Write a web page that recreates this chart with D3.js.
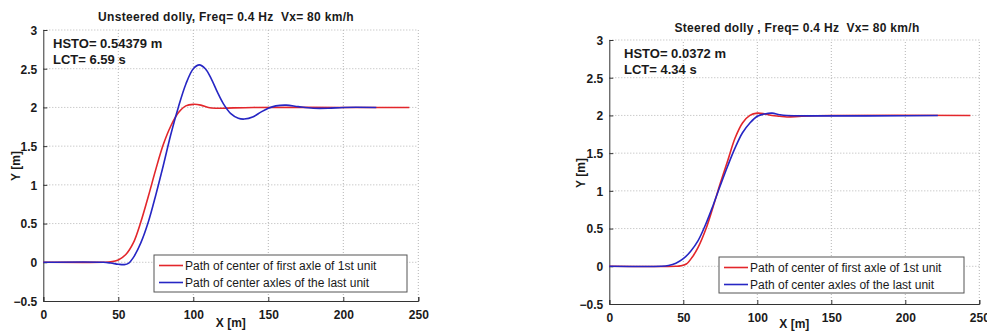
<!DOCTYPE html>
<html>
<head>
<meta charset="utf-8">
<script src="https://cdn.jsdelivr.net/npm/d3@7"></script>
<style>
  html, body { margin: 0; padding: 0; background: #fff; }
  svg { display: block; }
  text { font-family: "Liberation Sans", Arial, sans-serif; fill: #1a1a1a; }
  text.title { white-space: pre; }
</style>
</head>
<body>
<svg id="fig" width="987" height="331"></svg>
<script>
// Lateral path of the first axle of the tractor and of the last unit, single lane change
const xTicks = [0, 50, 100, 150, 200, 250];
const yTicks = [-0.5, 0, 0.5, 1, 1.5, 2, 2.5, 3];
const seriesNames = ["Path of center of first axle of 1st unit", "Path of center axles of the last unit"];

// Unsteered dolly: [X m, Y m]
const unsteeredFirstAxle = [
  [0, 0], [40, 0], [45, 0.005], [50, 0.03], [55, 0.1], [60, 0.25], [65, 0.52], [70, 0.85],
  [75, 1.2], [80, 1.52], [85, 1.76], [90, 1.93], [95, 2.02], [100, 2.04], [105, 2.03],
  [110, 2.0], [115, 1.99], [120, 1.99], [140, 2.0], [200, 2.0], [244, 2.0]
];
const unsteeredLastUnit = [
  [0, 0], [40, 0], [45, -0.01], [50, -0.025], [54, -0.03], [57, -0.01], [60, 0.06], [65, 0.25],
  [70, 0.52], [75, 0.87], [80, 1.25], [85, 1.65], [90, 2.0], [95, 2.3], [100, 2.5], [104, 2.55],
  [108, 2.5], [112, 2.37], [116, 2.2], [120, 2.05], [125, 1.92], [130, 1.86], [134, 1.85],
  [140, 1.88], [145, 1.94], [150, 1.99], [155, 2.02], [162, 2.03], [170, 2.01], [180, 1.99],
  [190, 1.99], [200, 2.0], [222, 2.0]
];

// Steered dolly: [X m, Y m]
const steeredFirstAxle = [
  [0, 0], [45, 0], [48, 0.005], [52, 0.03], [56, 0.12], [60, 0.25], [65, 0.48], [70, 0.78],
  [75, 1.1], [80, 1.4], [85, 1.7], [90, 1.9], [95, 2.0], [100, 2.03], [105, 2.02], [110, 2.0],
  [115, 1.99], [120, 1.98], [130, 1.99], [150, 2.0], [244, 2.0]
];
const steeredLastUnit = [
  [0, 0], [35, 0], [40, 0.01], [45, 0.04], [50, 0.1], [55, 0.2], [60, 0.34], [65, 0.55],
  [70, 0.8], [75, 1.07], [80, 1.33], [85, 1.57], [90, 1.77], [95, 1.9], [100, 1.99],
  [105, 2.02], [110, 2.03], [115, 2.01], [120, 2.0], [222, 2.0]
];

const titles = ["Unsteered dolly, Freq= 0.4 Hz  Vx= 80 km/h", "Steered dolly , Freq= 0.4 Hz  Vx= 80 km/h"];
const hstoLabels = ["HSTO= 0.54379 m", "HSTO= 0.0372 m"];
const lctLabels = ["LCT= 6.59 s", "LCT= 4.34 s"];

const colors = ["#e3262b", "#2626c4"];

const panels = [
  { x0: 43.3, x1: 418.3, yTop: 30, yBot: 301, titleX: 226, titleY: 21,
    ylabX: 16, ylabY: 166, xlabY: 327, infoX: 53, infoY: 48,
    legend: { x: 154, y: 255, w: 253, h: 37 },
    data: [unsteeredFirstAxle, unsteeredLastUnit], idx: 0 },
  { x0: 609.3, x1: 979.3, yTop: 40, yBot: 304, titleX: 797, titleY: 32,
    ylabX: 581, ylabY: 173, xlabY: 328, infoX: 624, infoY: 58,
    legend: { x: 719, y: 257, w: 245, h: 36 },
    data: [steeredFirstAxle, steeredLastUnit], idx: 1 }
];

const svg = d3.select("#fig");

panels.forEach(p => {
  const x = d3.scaleLinear().domain([0, 250]).range([p.x0, p.x1]);
  const y = d3.scaleLinear().domain([-0.5, 3]).range([p.yBot, p.yTop]);
  const g = svg.append("g");

  // dotted grid
  g.append("g").selectAll("line.gx").data(xTicks.slice(1)).join("line")
    .attr("x1", d => x(d)).attr("x2", d => x(d))
    .attr("y1", p.yBot).attr("y2", p.yTop)
    .attr("stroke", "#b5b5b5").attr("stroke-width", 1).attr("stroke-dasharray", "1,2");
  g.append("g").selectAll("line.gy").data(yTicks.slice(1)).join("line")
    .attr("x1", p.x0).attr("x2", p.x1)
    .attr("y1", d => y(d)).attr("y2", d => y(d))
    .attr("stroke", "#b5b5b5").attr("stroke-width", 1).attr("stroke-dasharray", "1,2");

  // axes with inward ticks
  const xAxis = d3.axisBottom(x).tickValues(xTicks).tickSize(-4).tickPadding(9).tickFormat(d3.format("d"));
  const yAxis = d3.axisLeft(y).tickValues(yTicks).tickSize(-4).tickPadding(6).tickFormat(d => d3.format("")(d));
  const gx = g.append("g").attr("transform", `translate(0,${p.yBot})`).call(xAxis);
  const gy = g.append("g").attr("transform", `translate(${p.x0},0)`).call(yAxis);
  [gx, gy].forEach(a => {
    a.select(".domain").attr("stroke", "#333").attr("stroke-width", 1);
    a.selectAll(".tick line").attr("stroke", "#333");
    a.selectAll(".tick text").attr("fill", "#1a1a1a")
      .style("font-family", '"Liberation Sans", Arial, sans-serif')
      .style("font-size", "12px").style("font-weight", "bold");
  });
  gy.selectAll(".tick text").attr("dy", "0.36em");

  // paths
  const line = d3.line().x(d => x(d[0])).y(d => y(d[1])).curve(d3.curveCatmullRom.alpha(0.5));
  p.data.forEach((series, i) => {
    g.append("path").datum(series)
      .attr("d", line).attr("fill", "none")
      .attr("stroke", colors[i]).attr("stroke-width", 1.6)
      .attr("stroke-linejoin", "round");
  });

  // titles and labels
  g.append("text").attr("class", "title").attr("x", p.titleX).attr("y", p.titleY)
    .attr("text-anchor", "middle")
    .style("font-size", "12px").style("font-weight", "bold").style("letter-spacing", "0.3px")
    .text(titles[p.idx]);
  g.append("text").attr("x", (p.x0 + p.x1) / 2).attr("y", p.xlabY).attr("text-anchor", "middle")
    .style("font-size", "12px").style("font-weight", "bold").text("X [m]");
  g.append("text").attr("transform", `translate(${p.ylabX},${p.ylabY}) rotate(-90)`)
    .attr("text-anchor", "middle").attr("dy", "0.35em")
    .style("font-size", "12px").style("font-weight", "bold").text("Y [m]");

  g.append("text").attr("x", p.infoX).attr("y", p.infoY)
    .style("font-size", "13px").style("font-weight", "bold").text(hstoLabels[p.idx]);
  g.append("text").attr("x", p.infoX).attr("y", p.infoY + 16)
    .style("font-size", "13px").style("font-weight", "bold").text(lctLabels[p.idx]);

  // legend
  const L = p.legend;
  const lg = g.append("g");
  lg.append("rect").attr("x", L.x).attr("y", L.y).attr("width", L.w).attr("height", L.h)
    .attr("fill", "#fff").attr("stroke", "#555").attr("stroke-width", 1);
  seriesNames.forEach((name, i) => {
    const ry = L.y + 10.5 + i * 17;
    lg.append("line").attr("x1", L.x + 5).attr("x2", L.x + 29).attr("y1", ry).attr("y2", ry)
      .attr("stroke", colors[i]).attr("stroke-width", 1.6);
    lg.append("text").attr("x", L.x + 31).attr("y", ry).attr("dy", "0.36em")
      .style("font-size", "12px").text(name);
  });
});
</script>
</body>
</html>
